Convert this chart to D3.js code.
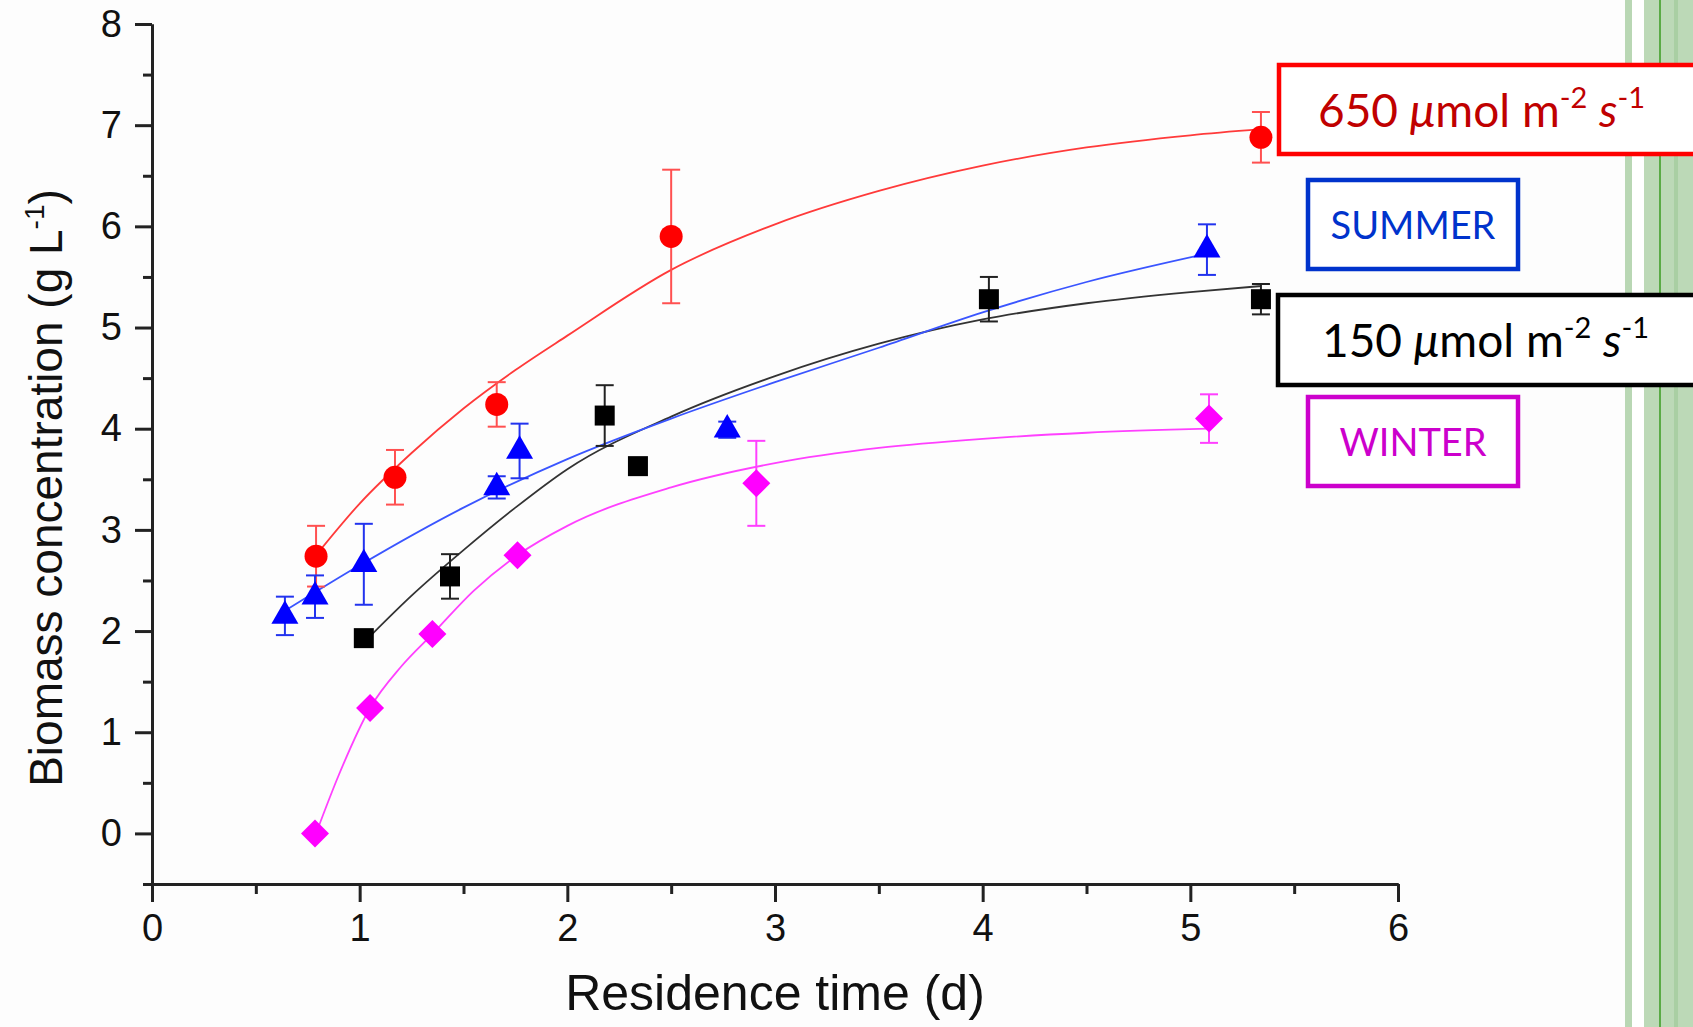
<!DOCTYPE html>
<html>
<head>
<meta charset="utf-8">
<script src="https://cdn.jsdelivr.net/npm/d3@7"></script>
<style>
  html, body { margin: 0; padding: 0; background: #fdfdfd; }
  svg { display: block; }
  .tick text { font-family: "Liberation Sans", Arial, sans-serif; font-size: 38px; fill: #111; }
</style>
</head>
<body>
<div id="chart"></div>
<script>
// measured points (residence time in d, biomass in g/L)
const redX = [0.79, 1.17, 1.66, 2.50, 5.34];
const redY = [2.74, 3.52, 4.24, 5.90, 6.88];
const redErr = [0.30, 0.27, 0.22, 0.66, 0.25];

const blueX = [0.64, 0.785, 1.02, 1.66, 1.77, 2.77, 5.08];
const blueY = [2.15, 2.34, 2.66, 3.42, 3.78, 3.99, 5.77];
const blueErr = [0.19, 0.21, 0.40, 0.11, 0.27, 0.08, 0.25];

const blackX = [1.02, 1.435, 2.18, 2.34, 4.03, 5.34];
const blackY = [1.93, 2.54, 4.13, 3.63, 5.28, 5.28];
const blackErr = [0, 0.22, 0.30, 0, 0.22, 0.15];

const pinkX = [0.785, 1.05, 1.35, 1.76, 2.91, 5.09];
const pinkY = [0.0, 1.24, 1.97, 2.75, 3.46, 4.10];
const pinkErr = [0, 0, 0, 0, 0.42, 0.24];

// fitted curves
const redFitX = [0.79, 1.0, 1.25, 1.5, 1.75, 2.0, 2.5, 3.0, 3.5, 4.0, 4.5, 5.0, 5.34];
const redFitY = [2.75, 3.26, 3.76, 4.20, 4.58, 4.92, 5.57, 6.02, 6.35, 6.60, 6.78, 6.90, 6.96];

const blueFitX = [0.64, 1.0, 1.5, 2.0, 2.5, 3.0, 3.5, 4.0, 4.5, 5.08];
const blueFitY = [2.20, 2.65, 3.22, 3.70, 4.10, 4.46, 4.80, 5.15, 5.45, 5.73];

const blackFitX = [1.06, 1.25, 1.5, 1.75, 2.0, 2.5, 3.0, 3.5, 4.0, 4.5, 5.0, 5.34];
const blackFitY = [1.97, 2.35, 2.80, 3.22, 3.60, 4.12, 4.52, 4.84, 5.08, 5.24, 5.35, 5.41];

const pinkFitX = [0.79, 0.9, 1.05, 1.2, 1.35, 1.55, 1.76, 2.0, 2.5, 3.0, 3.5, 4.0, 4.5, 5.09];
const pinkFitY = [0.0, 0.58, 1.24, 1.65, 1.97, 2.40, 2.75, 3.04, 3.42, 3.66, 3.81, 3.90, 3.96, 4.00];

const xTicks = [0, 1, 2, 3, 4, 5, 6];
const xMinor = [0.5, 1.5, 2.5, 3.5, 4.5, 5.5];
const yTicks = [0, 1, 2, 3, 4, 5, 6, 7, 8];
const yMinor = [-0.5, 0.5, 1.5, 2.5, 3.5, 4.5, 5.5, 6.5, 7.5];

const svgWidth = 1693;
const svgHeight = 1027;

const svg = d3.select("#chart")
  .append("svg")
  .attr("width", svgWidth)
  .attr("height", svgHeight);

svg.append("rect")
  .attr("width", svgWidth)
  .attr("height", svgHeight)
  .attr("fill", "#fdfdfd");

// green stripes on the right edge of the slide
const stripes = [
  [1625, 7, "#b9d7b4"], [1632, 12, "#ffffff"], [1644, 15, "#bcd9b7"],
  [1659, 2, "#5aab46"], [1661, 13, "#bcd9b7"], [1674, 4, "#a9cfa3"], [1678, 15, "#bcd9b7"]
];
svg.selectAll(".stripe")
  .data(stripes)
  .enter()
  .append("rect")
  .attr("x", d => d[0])
  .attr("y", 0)
  .attr("width", d => d[1])
  .attr("height", svgHeight)
  .attr("fill", d => d[2]);

const xScale = d3.scaleLinear().domain([0, 6]).range([152, 1398]);
const yScale = d3.scaleLinear().domain([-0.5, 8]).range([884, 24]);

// axes
const axisColor = "#222";
svg.append("g")
  .attr("transform", `translate(0, ${yScale(-0.5)})`)
  .call(d3.axisBottom(xScale).tickValues(xTicks).tickFormat(d3.format("d"))
    .tickSize(18).tickSizeOuter(0).tickPadding(12));
svg.append("g")
  .attr("transform", `translate(0, ${yScale(-0.5)})`)
  .call(d3.axisBottom(xScale).tickValues(xMinor).tickSize(10).tickSizeOuter(0).tickFormat(""));

svg.append("g")
  .attr("transform", `translate(${xScale(0)}, 0)`)
  .call(d3.axisLeft(yScale).tickValues(yTicks).tickFormat(d3.format("d"))
    .tickSize(17).tickSizeOuter(0).tickPadding(13));
svg.append("g")
  .attr("transform", `translate(${xScale(0)}, 0)`)
  .call(d3.axisLeft(yScale).tickValues(yMinor).tickSize(9).tickSizeOuter(0).tickFormat(""));

svg.selectAll(".domain").attr("stroke", axisColor).attr("stroke-width", 3);
svg.selectAll(".tick line").attr("stroke", axisColor).attr("stroke-width", 3);

// axis titles
svg.append("text")
  .attr("x", 775)
  .attr("y", 1010)
  .attr("text-anchor", "middle")
  .attr("font-family", "Liberation Sans, Arial, sans-serif")
  .attr("font-size", 50)
  .attr("fill", "#111")
  .text("Residence time (d)");

const yTitle = svg.append("text")
  .attr("transform", "translate(62, 488) rotate(-90)")
  .attr("text-anchor", "middle")
  .attr("font-family", "Liberation Sans, Arial, sans-serif")
  .attr("font-size", 46)
  .attr("fill", "#111");
yTitle.append("tspan").text("Biomass concentration (g L");
yTitle.append("tspan").attr("font-size", 28).attr("dy", -18).text("-1");
yTitle.append("tspan").attr("dy", 18).text(")");

// series
const series = [
  { x: redFitX, y: redFitY, px: redX, py: redY, err: redErr, line: "#ff3a3a", mark: "#ff0000", bar: "#ff5050", shape: "circle" },
  { x: blackFitX, y: blackFitY, px: blackX, py: blackY, err: blackErr, line: "#333", mark: "#000", bar: "#222", shape: "square" },
  { x: blueFitX, y: blueFitY, px: blueX, py: blueY, err: blueErr, line: "#3a55ff", mark: "#0000ff", bar: "#2233ee", shape: "triangle" },
  { x: pinkFitX, y: pinkFitY, px: pinkX, py: pinkY, err: pinkErr, line: "#ff40ff", mark: "#ff00ff", bar: "#ff40ff", shape: "diamond" }
];

const line = d3.line()
  .x(d => xScale(d[0]))
  .y(d => yScale(d[1]))
  .curve(d3.curveMonotoneX);

const symbols = {
  circle: d3.symbol().type(d3.symbolCircle).size(415),
  square: d3.symbol().type(d3.symbolSquare).size(400),
  triangle: d3.symbol().type(d3.symbolTriangle).size(316),
  diamond: d3.symbol().type(d3.symbolSquare).size(392)
};

series.forEach(s => {
  const fit = s.x.map((v, i) => [v, s.y[i]]);
  svg.append("path")
    .datum(fit)
    .attr("d", line)
    .attr("fill", "none")
    .attr("stroke", s.line)
    .attr("stroke-width", 1.8);
});

series.forEach(s => {
  const pts = s.px.map((v, i) => ({ x: v, y: s.py[i], e: s.err[i] }));
  const g = svg.append("g");
  const bars = g.selectAll(".err")
    .data(pts.filter(d => d.e > 0))
    .enter()
    .append("g")
    .attr("stroke", s.bar)
    .attr("stroke-width", 2);
  bars.append("line")
    .attr("x1", d => xScale(d.x)).attr("x2", d => xScale(d.x))
    .attr("y1", d => yScale(d.y + d.e)).attr("y2", d => yScale(d.y - d.e));
  bars.append("line")
    .attr("x1", d => xScale(d.x) - 9).attr("x2", d => xScale(d.x) + 9)
    .attr("y1", d => yScale(d.y + d.e)).attr("y2", d => yScale(d.y + d.e));
  bars.append("line")
    .attr("x1", d => xScale(d.x) - 9).attr("x2", d => xScale(d.x) + 9)
    .attr("y1", d => yScale(d.y - d.e)).attr("y2", d => yScale(d.y - d.e));

  g.selectAll(".mark")
    .data(pts)
    .enter()
    .append("path")
    .attr("d", symbols[s.shape])
    .attr("transform", d => `translate(${xScale(d.x)}, ${yScale(d.y)})` + (s.shape === "diamond" ? " rotate(45)" : ""))
    .attr("fill", s.mark);
});

// labels in boxes
const boxFont = "Lato, 'Noto Sans', sans-serif";

function irradianceBox(x, y, w, h, stroke, color, value, tx, ty) {
  svg.append("rect")
    .attr("x", x).attr("y", y).attr("width", w).attr("height", h)
    .attr("fill", "#fff").attr("stroke", stroke).attr("stroke-width", 4.5);
  const t = svg.append("text")
    .attr("x", tx).attr("y", ty)
    .attr("font-family", boxFont)
    .attr("font-size", 46)
    .attr("fill", color);
  t.append("tspan").text(value + " ");
  t.append("tspan").attr("font-style", "italic").text("\u03bc");
  t.append("tspan").text("mol m");
  t.append("tspan").attr("font-size", 29).attr("dy", -19).text("-2");
  t.append("tspan").attr("dy", 19).text(" ");
  t.append("tspan").attr("font-style", "italic").text("s");
  t.append("tspan").attr("font-size", 29).attr("dy", -19).text("-1");
}

function seasonBox(x, y, w, h, color, label, ty) {
  svg.append("rect")
    .attr("x", x).attr("y", y).attr("width", w).attr("height", h)
    .attr("fill", "#fff").attr("stroke", color).attr("stroke-width", 4.5);
  svg.append("text")
    .attr("x", x + w / 2).attr("y", ty)
    .attr("text-anchor", "middle")
    .attr("font-family", boxFont)
    .attr("font-size", 38)
    .attr("fill", color)
    .text(label);
}

irradianceBox(1279, 65, 440, 89, "#ff0000", "#c00000", "650", 1318, 127);
seasonBox(1308, 180, 210, 89, "#0033cc", "SUMMER", 239);
irradianceBox(1278, 295, 440, 90, "#000", "#000", "150", 1322, 357);
seasonBox(1308, 397, 210, 89, "#cc00cc", "WINTER", 456);
</script>
</body>
</html>
